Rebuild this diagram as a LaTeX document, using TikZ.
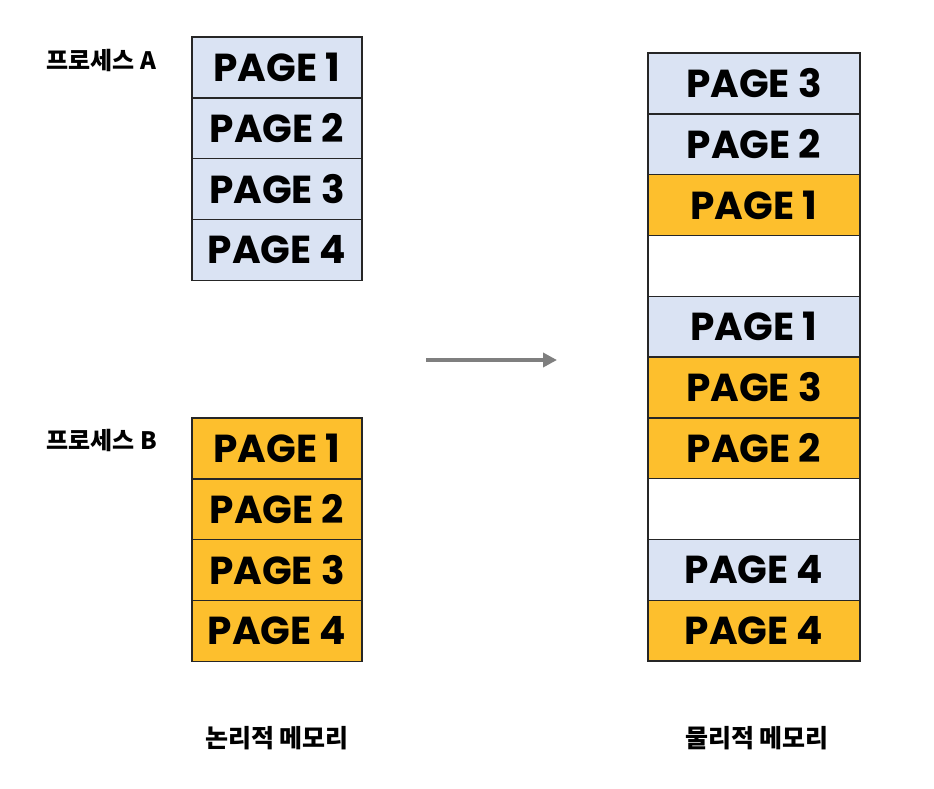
\documentclass[tikz,border=0pt]{standalone}
\usepackage{fontspec}
\setmainfont{Poppins}
\newfontfamily\kofont{Noto Sans CJK KR}
\usetikzlibrary{positioning,arrows.meta}
\definecolor{pageblue}{HTML}{DAE3F3}
\definecolor{pageorange}{HTML}{FDBF2D}
\definecolor{arrowgray}{HTML}{7F7F7F}
\tikzset{
  pagebox/.style={draw=black!85, line width=1.3pt, inner sep=0pt, outer sep=0pt,
    minimum height=60.8pt, font=\fontsize{39}{39}\selectfont\bfseries},
  logpage/.style={pagebox, minimum width=170pt},
  physpage/.style={pagebox, minimum width=212pt},
  proclabel/.style={anchor=west, font=\kofont\bfseries\fontsize{24}{24}\selectfont},
  memlabel/.style={font=\kofont\bfseries\fontsize{25}{25}\selectfont}
}
\begin{document}
\begin{tikzpicture}[x=1pt, y=-1pt]
\useasboundingbox (0,0) rectangle (934,788);
% process A
\node[proclabel] (procA) at (43,60) {프로세스 A};
\node[logpage, fill=pageblue] (a1) at (277,67.5) {PAGE 1};
\node[logpage, fill=pageblue, below=0pt of a1] (a2) {PAGE 2};
\node[logpage, fill=pageblue, below=0pt of a2] (a3) {PAGE 3};
\node[logpage, fill=pageblue, below=0pt of a3] (a4) {PAGE 4};
% process B
\node[proclabel] (procB) at (43,440) {프로세스 B};
\node[logpage, fill=pageorange] (b1) at (277,448.5) {PAGE 1};
\node[logpage, fill=pageorange, below=0pt of b1] (b2) {PAGE 2};
\node[logpage, fill=pageorange, below=0pt of b2] (b3) {PAGE 3};
\node[logpage, fill=pageorange, below=0pt of b3] (b4) {PAGE 4};
% physical memory
\node[physpage, fill=pageblue] (p1) at (754,83.5) {PAGE 3};
\node[physpage, fill=pageblue, below=0pt of p1] (p2) {PAGE 2};
\node[physpage, fill=pageorange, below=0pt of p2] (p3) {PAGE 1};
\node[physpage, fill=white, below=0pt of p3] (p4) {};
\node[physpage, fill=pageblue, below=0pt of p4] (p5) {PAGE 1};
\node[physpage, fill=pageorange, below=0pt of p5] (p6) {PAGE 3};
\node[physpage, fill=pageorange, below=0pt of p6] (p7) {PAGE 2};
\node[physpage, fill=white, below=0pt of p7] (p8) {};
\node[physpage, fill=pageblue, below=0pt of p8] (p9) {PAGE 4};
\node[physpage, fill=pageorange, below=0pt of p9] (p10) {PAGE 4};
% arrow
\coordinate (arrowstart) at (426,360);
\coordinate (arrowend) at (557,360);
\draw[arrowgray, line width=4pt, -{Triangle[length=14pt, width=14pt]}] (arrowstart) -- (arrowend);
% captions
\node[memlabel] (logmem) at (277,738) {논리적 메모리};
\node[memlabel] (physmem) at (757,738) {물리적 메모리};
\end{tikzpicture}
\end{document}
